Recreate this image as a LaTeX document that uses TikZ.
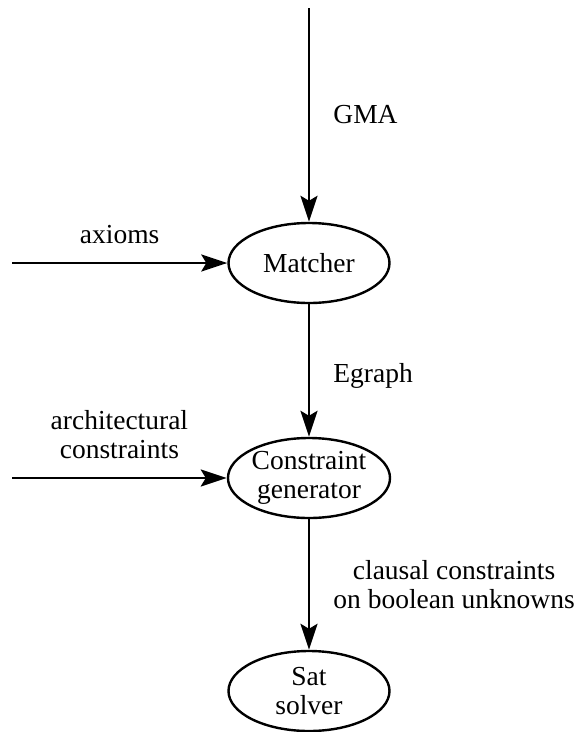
\documentclass[tikz,border=0pt]{standalone}
\usepackage{fontspec}
\setmainfont{Liberation Serif}
\usetikzlibrary{arrows.meta,shapes.geometric}

\begin{document}
\begin{tikzpicture}[x=1pt, y=-1pt,
                    every node/.style={font=\fontsize{27.5}{29}\selectfont, align=center},
                    proc/.style={draw, ellipse, line width=2.4pt, minimum width=161pt, minimum height=80pt, inner sep=0pt},
                    flow/.style={line width=2.8pt, -{Stealth[length=26pt, width=17pt, inset=5pt]}},
                    lbl/.style={inner sep=0pt}]
                    \useasboundingbox (0,0) rectangle (579,732);
                    \coordinate (gmain) at (309,8);
                    \node[proc] (matcher) at (309,263) {Matcher};
                    \node[proc] (cgen) at (309,478) {Constraint\\generator};
                    \node[proc] (sat) at (309,691) {Sat\\solver};
                    \coordinate (axin) at (12,263);
                    \coordinate (archin) at (12,478);
                    \draw[flow] (gmain) -- node[lbl, right, xshift=23pt] {GMA} (matcher);
                    \draw[flow] (axin) -- node[lbl, above, yshift=18pt] {axioms} (matcher);
                    \draw[flow] (matcher) -- node[lbl, right, xshift=23pt, pos=.54] {Egraph} (cgen);
                    \draw[flow] (archin) -- node[lbl, above, yshift=18pt] {architectural\\constraints} (cgen);
                    \draw[flow] (cgen) -- node[lbl, right, xshift=23pt] {clausal constraints\\on boolean unknowns} (sat);
                \end{tikzpicture}
\end{document}
